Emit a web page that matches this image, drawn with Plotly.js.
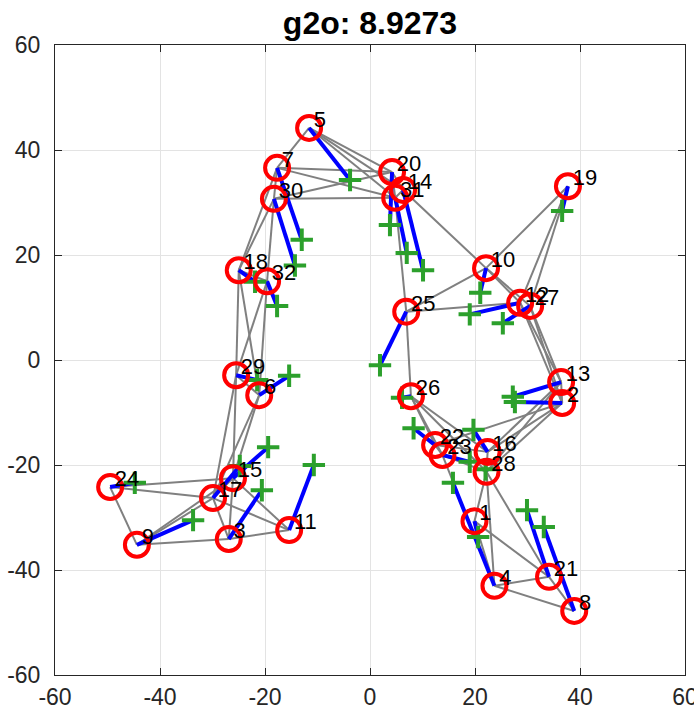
<!DOCTYPE html>
<html>
<head>
<meta charset="utf-8">
<script src="https://cdn.plot.ly/plotly-3.0.1.min.js"></script>
<style>html,body{margin:0;padding:0;background:#fff;}#chart{width:694px;height:708px;}</style>
</head>
<body>
<div id="chart"></div>
<script>
// Node ids
const nodeIds = [1,2,3,4,5,6,7,8,9,10,11,12,13,14,15,16,17,18,19,20,21,22,23,24,25,26,27,28,29,30,31,32];
// Estimated positions (red circles)
const estX = [19.9,36.6,-26.9,23.7,-11.6,-21.1,-17.7,38.9,-44.4,22.1,-15.4,28.6,36.4,6.3,-26.1,22.4,-29.9,-25.0,37.7,4.2,34.1,12.4,13.8,-49.5,6.9,7.8,30.5,22.2,-25.5,-18.3,4.8,-19.6];
const estY = [-30.7,-8.2,-34.1,-43.0,44.2,-6.7,36.6,-47.8,-35.2,17.5,-32.4,10.9,-4.2,32.4,-22.5,-17.5,-26.3,17.1,33.1,35.8,-41.3,-16.2,-18.1,-24.2,9.2,-6.9,10.3,-21.3,-2.9,30.7,30.9,15.0];
// Reference positions (green pluses)
const refX = [20.6,27.6,-20.6,15.8,-3.8,-15.4,-13.0,33.1,-33.7,21.0,-10.7,19.0,27.2,10.1,-19.4,19.7,-24.8,-21.9,36.6,3.8,29.9,8.3,19.0,-44.8,1.9,6.1,25.3,22.0,-21.5,-14.3,7.0,-17.7];
const refY = [-33.7,-8.0,-24.8,-23.4,34.3,-3.0,22.9,-31.8,-30.5,12.8,-20.0,8.7,-7.0,17.1,-16.6,-13.3,-20.2,14.9,28.4,25.7,-28.6,-13.0,-19.4,-23.4,-1.0,-7.2,7.0,-20.8,-3.8,18.0,20.4,10.3];
// Graph edges between estimated nodes
const edgeFrom = [5,5,5,5,7,7,30,30,7,20,20,31,7,30,30,18,31,14,10,10,10,10,19,19,12,12,27,27,13,25,25,13,13,2,2,2,26,26,26,26,22,22,23,16,23,28,28,28,1,1,4,4,21,18,18,32,32,29,29,29,6,6,24,24,24,9,9,9,3,3,3,17,15,15];
const edgeTo   = [7,20,31,14,20,31,20,31,30,31,14,14,18,18,32,32,25,10,25,12,27,19,12,27,13,2,13,2,2,12,26,16,28,16,28,22,22,23,16,28,23,16,28,28,4,1,4,21,4,21,21,8,8,29,6,29,6,6,15,17,15,17,15,17,9,17,15,3,17,15,11,11,11,17];

const title = 'g2o: 8.9273';
const tickVals = [-60,-40,-20,0,20,40,60];

function idx(id){ return nodeIds.indexOf(id); }

const gx = [], gy = [];
for (let k = 0; k < edgeFrom.length; k++) {
  const a = idx(edgeFrom[k]), b = idx(edgeTo[k]);
  gx.push(estX[a], estX[b], null);
  gy.push(estY[a], estY[b], null);
}
const bx = [], by = [];
for (let i = 0; i < nodeIds.length; i++) {
  bx.push(estX[i], refX[i], null);
  by.push(estY[i], refY[i], null);
}

const traces = [
  {x: gx, y: gy, mode: 'lines', line: {color: 'rgb(128,128,128)', width: 2}, hoverinfo: 'skip'},
  {x: bx, y: by, mode: 'lines', line: {color: 'rgb(0,0,255)', width: 4}, hoverinfo: 'skip'},
  {x: refX, y: refY, mode: 'markers', marker: {symbol: 'cross-thin-open', size: 16, line: {color: 'rgb(76,178,82)', width: 4}}},
  {x: estX, y: estY, mode: 'markers', marker: {symbol: 'circle-open', size: 24, color: 'rgb(255,0,0)', line: {color: 'rgb(255,0,0)', width: 4}}},
  {x: estX.map(v => v + 0.9), y: estY.map(v => v + 1.2), mode: 'text', text: nodeIds.map(String), textposition: 'middle right',
   textfont: {family: 'Liberation Sans, Arial, sans-serif', size: 22, color: '#000'}}
];

const axisCommon = {
  range: [-60, 60], tickvals: tickVals, ticktext: tickVals.map(String),
  showgrid: true, gridcolor: 'rgb(227,227,227)', gridwidth: 1,
  zeroline: false, showline: true, linecolor: 'rgb(38,38,38)', linewidth: 1,
  mirror: 'ticks', ticks: 'inside', ticklen: 7, tickcolor: 'rgb(38,38,38)',
  tickfont: {family: 'Liberation Sans, Arial, sans-serif', size: 23, color: 'rgb(38,38,38)'},
  ticklabeloverflow: 'allow', fixedrange: true
};

const layout = {
  width: 694, height: 708,
  margin: {l: 55, r: 9, t: 45, b: 33},
  paper_bgcolor: '#fff', plot_bgcolor: '#fff',
  showlegend: false,
  title: {text: '<b>' + title + '</b>', x: 0.5, xref: 'paper', xanchor: 'center', y: 1 - 23/708, yref: 'container', yanchor: 'middle',
          font: {family: 'Liberation Sans, Arial, sans-serif', size: 32, color: '#000'}},
  xaxis: Object.assign({}, axisCommon, {ticklabelstandoff: 1}),
  yaxis: Object.assign({}, axisCommon, {ticklabelstandoff: 9})
};

Plotly.newPlot('chart', traces, layout, {staticPlot: true});
</script>
</body>
</html>
